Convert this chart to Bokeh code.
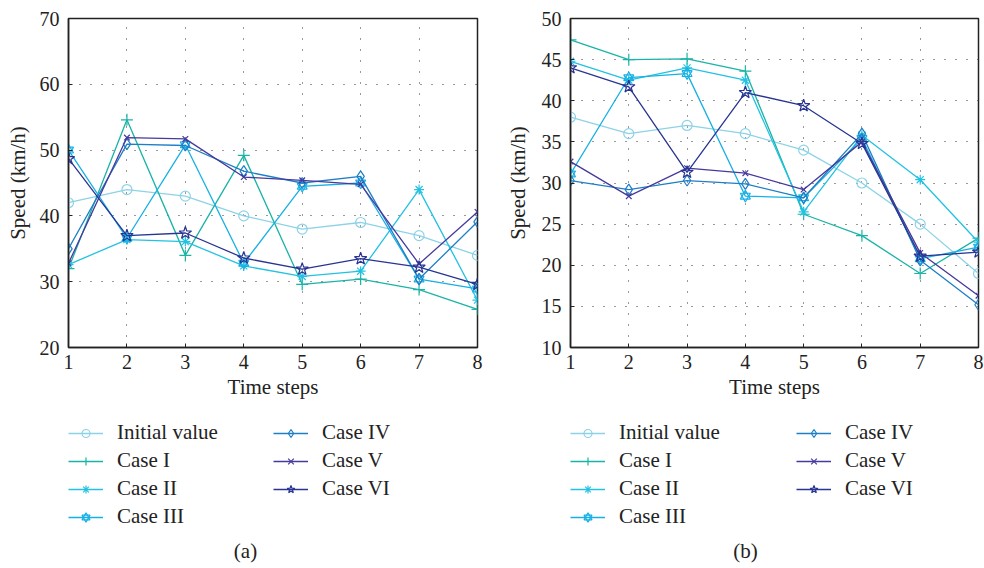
from bokeh.plotting import figure
from bokeh.models import Range1d, FixedTicker, Legend, LegendItem, Label
from bokeh.layouts import row, column
from bokeh.embed import file_html
from bokeh.resources import INLINE

steps = [1, 2, 3, 4, 5, 6, 7, 8]
series_names = ["Initial value", "Case I", "Case II", "Case III", "Case IV", "Case V", "Case VI"]

# Panel (a)
a_initial = [42.0, 44.0, 43.0, 40.0, 38.0, 39.0, 37.0, 34.0]
a_case1 = [32.0, 54.6, 34.0, 49.2, 29.6, 30.4, 28.8, 25.8]
a_case2 = [32.6, 36.4, 36.1, 32.4, 30.8, 31.6, 44.0, 27.2]
a_case3 = [50.0, 36.6, 50.8, 32.8, 44.5, 45.0, 30.4, 28.9]
a_case4 = [35.0, 50.9, 50.7, 46.8, 45.0, 46.0, 30.4, 39.1]
a_case5 = [32.8, 51.9, 51.7, 45.9, 45.4, 44.8, 32.7, 40.6]
a_case6 = [48.7, 37.0, 37.4, 33.6, 31.9, 33.5, 32.2, 29.6]
a_yticks = [20, 30, 40, 50, 60, 70]

# Panel (b)
b_initial = [38.0, 36.0, 37.0, 36.0, 34.0, 30.0, 25.0, 19.0]
b_case1 = [47.4, 45.0, 45.1, 43.6, 26.2, 23.6, 19.0, 23.3]
b_case2 = [44.8, 42.5, 44.0, 42.5, 26.5, 35.8, 30.4, 22.8]
b_case3 = [31.1, 42.8, 43.3, 28.4, 28.2, 35.4, 20.8, 22.2]
b_case4 = [30.3, 29.2, 30.3, 29.9, 28.2, 36.0, 20.6, 15.2]
b_case5 = [32.6, 28.4, 31.8, 31.2, 29.2, 35.0, 21.5, 16.3]
b_case6 = [44.0, 41.7, 31.3, 41.0, 39.4, 34.8, 21.1, 21.6]
b_yticks = [10, 15, 20, 25, 30, 35, 40, 45, 50]

colors = ["#8dd2e7", "#19b4a6", "#22c2e2", "#17b0e4", "#1f7fc6", "#463a9c", "#283593"]
markers = ["circle", "cross", "asterisk", "hexagram", "diamond", "x", "star"]
msizes = [10, 12, 10, 10, 11, 8, 13]

FONT = "Liberation Serif"


def add_series(p, xs, vals, c, m, s):
    rs = [p.line(xs, vals, line_color=c, line_width=1.3)]
    mks = ["triangle", "inverted_triangle"] if m == "hexagram" else [m]
    for mk in mks:
        rs.append(p.scatter(xs, vals, marker=mk, size=s, line_color=c,
                            fill_color=None, line_width=1.2))
    return rs


def make_plot(values, y_lo, y_hi, yticks, width, bl, br, ylab_standoff):
    p = figure(width=width, height=408, x_range=Range1d(1, 8), y_range=Range1d(y_lo, y_hi),
               output_backend="svg", toolbar_location=None,
               min_border_left=bl, min_border_right=br, min_border_top=18, min_border_bottom=61)
    p.background_fill_color = "white"
    p.border_fill_color = "white"
    p.outline_line_color = "#222222"
    p.outline_line_width = 1.5
    p.xaxis.ticker = FixedTicker(ticks=steps)
    p.yaxis.ticker = FixedTicker(ticks=yticks)
    for ax in (p.xaxis, p.yaxis):
        ax.axis_line_color = "#222222"
        ax.axis_line_width = 1.5
        ax.major_tick_in = 4
        ax.major_tick_out = 0
        ax.major_tick_line_color = "#222222"
        ax.minor_tick_line_color = None
        ax.major_label_text_font = FONT
        ax.major_label_text_font_size = "20px"
        ax.major_label_text_color = "#222222"
        ax.axis_label_text_font = FONT
        ax.axis_label_text_font_size = "21px"
        ax.axis_label_text_font_style = "normal"
        ax.axis_label_text_color = "#222222"
    p.xaxis.axis_label = "Time steps"
    p.yaxis.axis_label = "Speed (km/h)"
    p.xaxis.major_label_standoff = 7
    p.yaxis.major_label_standoff = 9
    p.xaxis.axis_label_standoff = 3
    p.yaxis.axis_label_standoff = ylab_standoff
    for g in (p.xgrid, p.ygrid):
        g.grid_line_color = "#333333"
        g.grid_line_dash = "1 10"
        g.grid_line_width = 1
    for vals, c, m, s in zip(values, colors, markers, msizes):
        add_series(p, steps, vals, c, m, s)
    return p


def make_legend(width, x0, col_w, caption, cap_x):
    q = figure(width=width, height=160, x_range=Range1d(0, 1), y_range=Range1d(0, 1),
               output_backend="svg", toolbar_location=None,
               x_axis_location=None, y_axis_location=None, min_border=0)
    q.outline_line_color = None
    q.xgrid.visible = False
    q.ygrid.visible = False
    q.background_fill_color = "white"
    q.border_fill_color = "white"
    items = []
    for name, c, m, s in zip(series_names, colors, markers, msizes):
        # one off-range point so the legend can draw the glyph
        rs = add_series(q, [-10], [-10], c, m, s)
        items.append(LegendItem(label=name, renderers=rs))
    leg = Legend(items=items, location=(x0, 39), orientation="vertical", nrows=4)
    leg.margin = 0
    leg.padding = 0
    leg.spacing = 3
    leg.glyph_width = 35
    leg.glyph_height = 20
    leg.label_height = 20
    leg.label_standoff = 14
    leg.label_width = col_w - 35 - 14 - 3
    leg.label_text_font = FONT
    leg.label_text_font_size = "21px"
    leg.label_text_color = "#222222"
    leg.border_line_alpha = 0
    leg.background_fill_alpha = 0
    q.add_layout(leg, "center")
    q.add_layout(Label(x=cap_x, y=18, x_units="screen", y_units="screen", text=caption,
                       text_font=FONT, text_font_size="21px", text_align="center",
                       text_baseline="middle", text_color="#222222"))
    return q


p1 = make_plot([a_initial, a_case1, a_case2, a_case3, a_case4, a_case5, a_case6],
               20, 70, a_yticks, 492, 68, 15, 7)
p2 = make_plot([b_initial, b_case1, b_case2, b_case3, b_case4, b_case5, b_case6],
               10, 50, b_yticks, 492, 78, 6, 9)
l1 = make_legend(492, 68, 205, "(a)", 245)
l2 = make_legend(492, 78, 226, "(b)", 253)

layout = column(row(p1, p2), row(l1, l2))
open("out.html", "w").write(file_html(layout, INLINE))
